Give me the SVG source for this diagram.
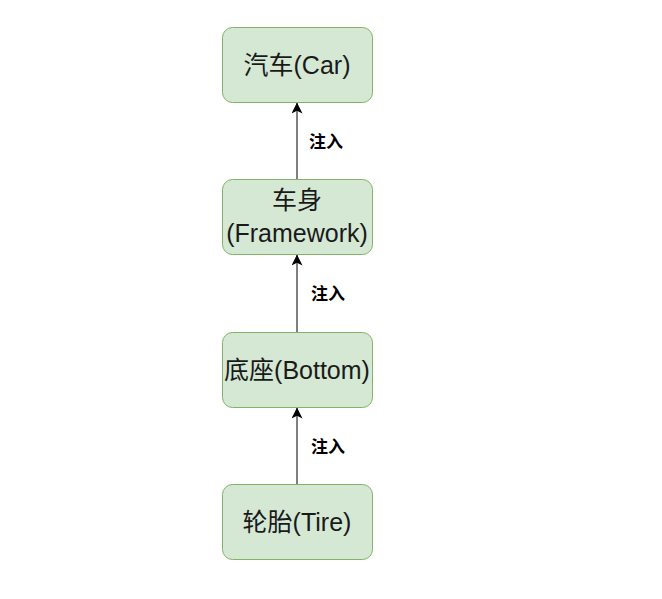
<svg xmlns="http://www.w3.org/2000/svg" width="662" height="599" viewBox="0 0 662 599">
<style>
.box{fill:#d5e8d4;stroke:#82b366;stroke-width:1}
.t{font-family:"Liberation Sans","Noto Sans CJK SC",sans-serif;font-size:25px;fill:#1a1a1a;text-anchor:middle}
.lbl{font-family:"Noto Sans CJK SC",sans-serif;font-size:17px;font-weight:bold;fill:#000}
.edge{stroke:#000;stroke-width:1;fill:none}
</style>
<defs>
<marker id="ar" viewBox="0 0 10 10" refX="10" refY="5" markerWidth="11" markerHeight="11" markerUnits="userSpaceOnUse" orient="auto">
<path d="M0,0 L10,5 L0,10 L2.5,5 Z" fill="#000"/>
</marker>
</defs>
<rect width="662" height="599" fill="#fff"/>
<g id="connectors">
<line class="edge" x1="297" y1="179" x2="297" y2="102.5" marker-end="url(#ar)"/>
<line class="edge" x1="297" y1="332" x2="297" y2="254.5" marker-end="url(#ar)"/>
<line class="edge" x1="297" y1="484" x2="297" y2="407.5" marker-end="url(#ar)"/>
<text class="lbl" x="309" y="148">注入</text>
<text class="lbl" x="311" y="300">注入</text>
<text class="lbl" x="311" y="453">注入</text>
</g>
<g id="car">
<rect class="box" x="222.5" y="27.5" width="150" height="75" rx="10"/>
<text class="t" x="297" y="74">汽车(Car)</text>
</g>
<g id="framework">
<rect class="box" x="222.5" y="179.5" width="150" height="75" rx="10"/>
<text class="t" x="297" y="209">车身</text>
<text class="t" x="297" y="242">(Framework)</text>
</g>
<g id="bottom">
<rect class="box" x="222.5" y="332.5" width="150" height="75" rx="10"/>
<text class="t" x="297" y="379">底座(Bottom)</text>
</g>
<g id="tire">
<rect class="box" x="222.5" y="484.5" width="150" height="75" rx="10"/>
<text class="t" x="297" y="531">轮胎(Tire)</text>
</g>
</svg>
